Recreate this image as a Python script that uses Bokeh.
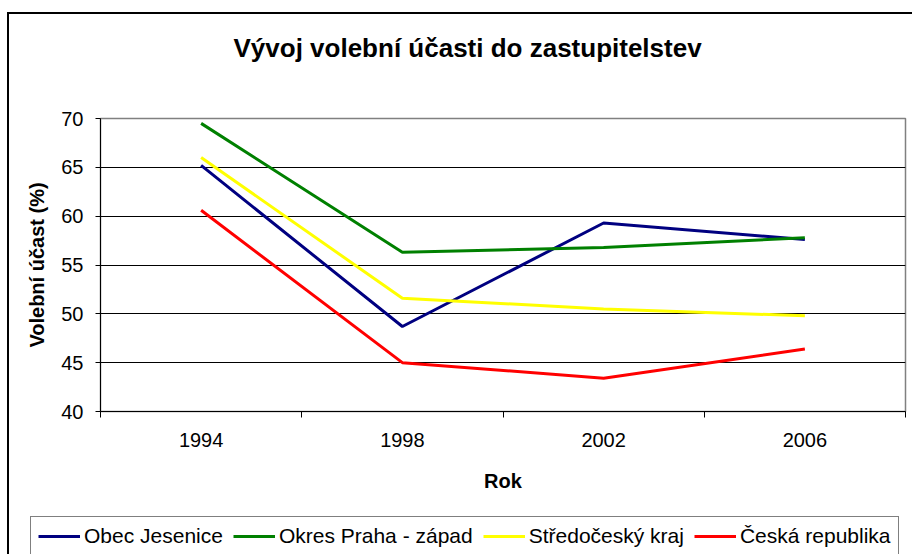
from bokeh.plotting import figure
from bokeh.models import (FactorRange, Range1d, LinearAxis, CategoricalAxis, FixedTicker,
                          Legend, LegendItem, Title)
from bokeh.embed import file_html
from bokeh.resources import INLINE

years = ["1994", "1998", "2002", "2006"]
obec_jesenice = [65.2, 48.7, 59.3, 57.6]
okres_praha_zapad = [69.5, 56.3, 56.8, 57.8]
stredocesky_kraj = [66.0, 51.6, 50.5, 49.8]
ceska_republika = [60.6, 45.0, 43.4, 46.4]
y_ticks = [40, 45, 50, 55, 60, 65, 70]

series = [
    ("Obec Jesenice", obec_jesenice, "#000080"),
    ("Okres Praha - západ", okres_praha_zapad, "#008000"),
    ("Středočeský kraj", stredocesky_kraj, "#FFFF00"),
    ("Česká republika", ceska_republika, "#FF0000"),
]

FONT = "Liberation Sans"

p = figure(width=912, height=505, output_backend="svg", toolbar_location=None,
           x_range=FactorRange(factors=years, range_padding=0),
           y_range=Range1d(40, 70), x_axis_location=None,
           min_border_left=100, min_border_right=7, min_border_top=118, min_border_bottom=94)

# main title (outermost) and an empty spacer title between it and the plot area
p.title.text = "Vývoj volební účasti do zastupitelstev"
p.title.text_font = FONT
p.title.text_font_size = "26px"
p.title.text_font_style = "bold"
p.title.text_color = "black"
p.title.align = "left"
p.title.offset = 133
p.title.standoff = 0
p.add_layout(Title(text=" ", text_font_size="10px", standoff=43), "above")

p.outline_line_color = "#808080"
p.outline_line_width = 1.5
p.background_fill_color = "white"
p.border_fill_alpha = 0
p.styles = {
    "background": "linear-gradient(black, black) 7px 12px / 2px 100% no-repeat, "
                  "linear-gradient(black, black) 7px 12px / 100% 2px no-repeat, white"
}

# y axis
yax = p.yaxis[0]
yax.ticker = FixedTicker(ticks=y_ticks)
yax.axis_label = "Volební účast (%)"
yax.axis_label_text_font = FONT
yax.axis_label_text_font_size = "20px"
yax.axis_label_text_font_style = "bold"
yax.axis_label_text_color = "black"
yax.axis_label_standoff = 10
yax.major_label_text_font = FONT
yax.major_label_text_font_size = "20px"
yax.major_label_text_color = "black"
yax.major_label_standoff = 12
yax.major_tick_in = 0
yax.major_tick_out = 5
yax.minor_tick_line_color = None
yax.axis_line_color = "black"
yax.major_tick_line_color = "black"

p.ygrid.ticker = FixedTicker(ticks=y_ticks)
p.ygrid.grid_line_color = "black"
p.ygrid.grid_line_width = 1
p.xgrid.visible = False

# boundary ticks on x (category edges in the factor range's synthetic coordinates)
bax = LinearAxis(ticker=FixedTicker(ticks=list(range(len(years) + 1))),
                 major_tick_in=0, major_tick_out=6, minor_tick_line_color=None,
                 major_label_text_alpha=0, major_label_text_font_size="1px",
                 major_label_standoff=0, axis_line_color="black", major_tick_line_color="black")
p.add_layout(bax, "below")

cax = CategoricalAxis(axis_line_color=None, major_tick_line_color=None,
                      major_label_text_font=FONT, major_label_text_font_size="20px",
                      major_label_text_color="black", major_label_standoff=9,
                      axis_label="Rok", axis_label_text_font=FONT, axis_label_text_font_size="20px",
                      axis_label_text_font_style="bold", axis_label_text_color="black",
                      axis_label_standoff=20)
p.add_layout(cax, "below")

for name, vals, col in series:
    p.line(x=years, y=vals, line_color=col, line_width=3)

# legend strip (separate canvas below the chart, its own root so its plot area spans the full width)
p2 = figure(width=912, height=49, output_backend="svg", toolbar_location=None,
            x_range=FactorRange(factors=years), y_range=Range1d(0, 1),
            x_axis_location=None, y_axis_location=None,
            min_border=0, min_border_left=0, min_border_right=0,
            min_border_top=0, min_border_bottom=0)
p2.grid.visible = False
p2.outline_line_color = None
p2.background_fill_color = None
p2.border_fill_alpha = 0
p2.styles = {
    "background": "linear-gradient(black, black) 7px 0px / 2px 100% no-repeat, white"
}

items = []
for name, vals, col in series:
    r = p2.line(x=years, y=vals, line_color=col, line_width=3)
    items.append(LegendItem(label=name, renderers=[r]))

legend = Legend(items=items, orientation="horizontal", location=(30, -2),
                label_text_font=FONT, label_text_font_size="21px", label_text_color="black",
                glyph_width=42, glyph_height=20, label_standoff=4, spacing=10,
                padding=7, margin=0, border_line_color="black", border_line_width=1,
                background_fill_color="white")
p2.add_layout(legend, "center")

open("out.html", "w").write(file_html([p, p2], INLINE))
